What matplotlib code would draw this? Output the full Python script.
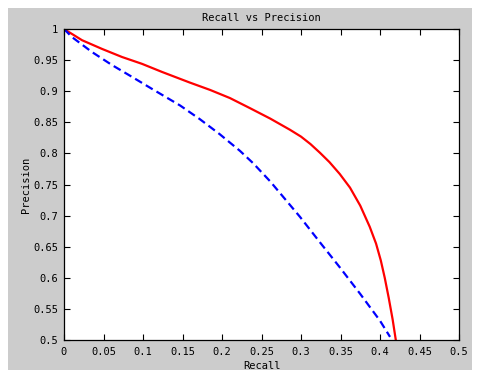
import matplotlib
matplotlib.use("Agg")
import matplotlib.pyplot as plt
from matplotlib.patches import Rectangle

# Red solid curve (recall, precision)
red_recall = [0.0, 0.0228, 0.0481, 0.0734, 0.0987, 0.124, 0.159, 0.185, 0.210, 0.235,
              0.261, 0.286, 0.300, 0.312, 0.324, 0.336, 0.349, 0.362, 0.375, 0.387,
              0.395, 0.401, 0.406, 0.411, 0.416, 0.420]
red_precision = [1.0, 0.982, 0.968, 0.955, 0.944, 0.931, 0.914, 0.902, 0.889, 0.873,
                 0.856, 0.838, 0.827, 0.815, 0.801, 0.786, 0.767, 0.745, 0.716, 0.682,
                 0.655, 0.628, 0.600, 0.568, 0.533, 0.500]

# Blue dashed curve
blue_recall = [0.0, 0.0101, 0.0354, 0.0608, 0.0861, 0.111, 0.147, 0.172, 0.197, 0.2228,
               0.2396, 0.261, 0.2987, 0.324, 0.349, 0.375, 0.400, 0.4127]
blue_precision = [1.0, 0.987, 0.963, 0.942, 0.923, 0.904, 0.877, 0.855, 0.831, 0.804,
                  0.784, 0.755, 0.698, 0.657, 0.617, 0.574, 0.531, 0.505]

xticks = [0, 0.05, 0.1, 0.15, 0.2, 0.25, 0.3, 0.35, 0.4, 0.45, 0.5]
xticklabels = ["0", "0.05", "0.1", "0.15", "0.2", "0.25", "0.3", "0.35", "0.4", "0.45", "0.5"]
yticks = [0.5, 0.55, 0.6, 0.65, 0.7, 0.75, 0.8, 0.85, 0.9, 0.95, 1.0]
yticklabels = ["0.5", "0.55", "0.6", "0.65", "0.7", "0.75", "0.8", "0.85", "0.9", "0.95", "1"]

plt.rcParams['font.family'] = ['DejaVu Sans Mono']
fig = plt.figure(figsize=(4.78, 3.70), dpi=100, facecolor='white')
fig.patches.append(Rectangle((8/478, 0), 464/478, 362/370, transform=fig.transFigure,
                             facecolor='#cccccc', edgecolor='none', zorder=-10))

ax = fig.add_axes([64/478, 30/370, 395/478, 311/370])
ax.plot(red_recall, red_precision, color='#ff0000', lw=1.6,
        solid_joinstyle='round', solid_capstyle='round')
ax.plot(blue_recall, blue_precision, color='#0000ff', lw=1.6, ls=(0, (3.6, 2.0)))

ax.set_xlim(0, 0.5)
ax.set_ylim(0.5, 1.0)
ax.set_xticks(xticks)
ax.set_xticklabels(xticklabels)
ax.set_yticks(yticks)
ax.set_yticklabels(yticklabels)
ax.tick_params(direction='in', length=4, width=0.8, top=True, right=True,
               labelsize=7.5, colors='black')
ax.tick_params(axis='x', pad=5)
ax.tick_params(axis='y', pad=4)
for s in ax.spines.values():
    s.set_linewidth(0.9)
    s.set_color('black')
ax.set_title("Recall vs Precision", fontsize=7.5, pad=6)
ax.set_xlabel("Recall", fontsize=7.5, labelpad=3)
ax.set_ylabel("Precision", fontsize=7.5, labelpad=2)

fig.savefig("out.png", dpi=100, facecolor='white')
